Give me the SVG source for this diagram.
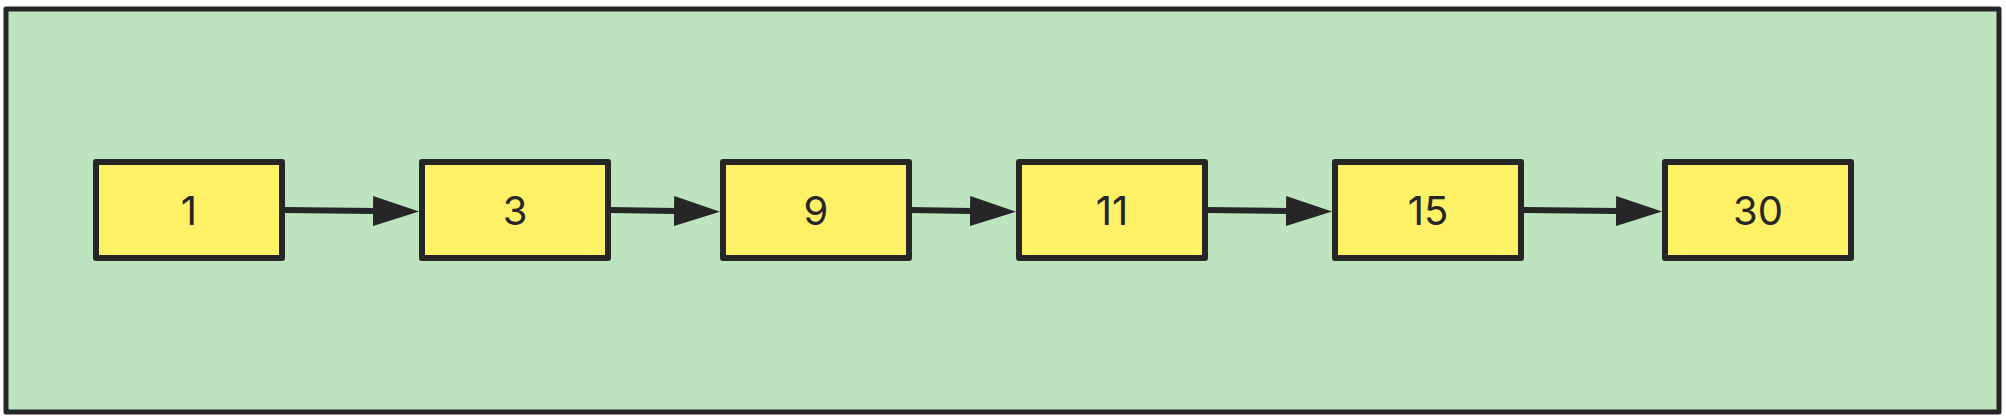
<svg xmlns="http://www.w3.org/2000/svg" width="2006" height="420" viewBox="0 0 2006 420">
<style>
.n rect{fill:#fff165;stroke:#262626;stroke-width:6;stroke-linejoin:round}
.n text{font-family:Inter,"Liberation Sans",sans-serif;font-size:40px;fill:#262626;text-anchor:middle;dominant-baseline:central}
.c line{stroke:#262626;stroke-width:6}
</style>
<defs><marker id="a" markerUnits="userSpaceOnUse" markerWidth="48" markerHeight="30" refX="1" refY="15" orient="auto"><path d="M0,0L46,15L0,30Z" fill="#262626"/></marker></defs>
<rect width="2006" height="420" fill="#fff"/>
<rect x="6" y="9" width="1993" height="403" fill="#bde3bf" stroke="#262626" stroke-width="5" stroke-linejoin="round"/>
<g class="c">
<line x1="283" y1="210" x2="374" y2="211" marker-end="url(#a)"/>
<line x1="609" y1="210" x2="675" y2="211" marker-end="url(#a)"/>
<line x1="910" y1="210" x2="971" y2="211" marker-end="url(#a)"/>
<line x1="1206" y1="210" x2="1287" y2="211" marker-end="url(#a)"/>
<line x1="1522" y1="210" x2="1617" y2="211" marker-end="url(#a)"/>
</g>
<g id="n1" class="n"><rect x="96" y="162" width="186" height="96"/><text x="189" y="210">1</text></g>
<g id="n3" class="n"><rect x="422" y="162" width="186" height="96"/><text x="515" y="210">3</text></g>
<g id="n9" class="n"><rect x="723" y="162" width="186" height="96"/><text x="816" y="210">9</text></g>
<g id="n11" class="n"><rect x="1019" y="162" width="186" height="96"/><text x="1112" y="210">11</text></g>
<g id="n15" class="n"><rect x="1335" y="162" width="186" height="96"/><text x="1428" y="210">15</text></g>
<g id="n30" class="n"><rect x="1665" y="162" width="186" height="96"/><text x="1758" y="210">30</text></g>
</svg>
